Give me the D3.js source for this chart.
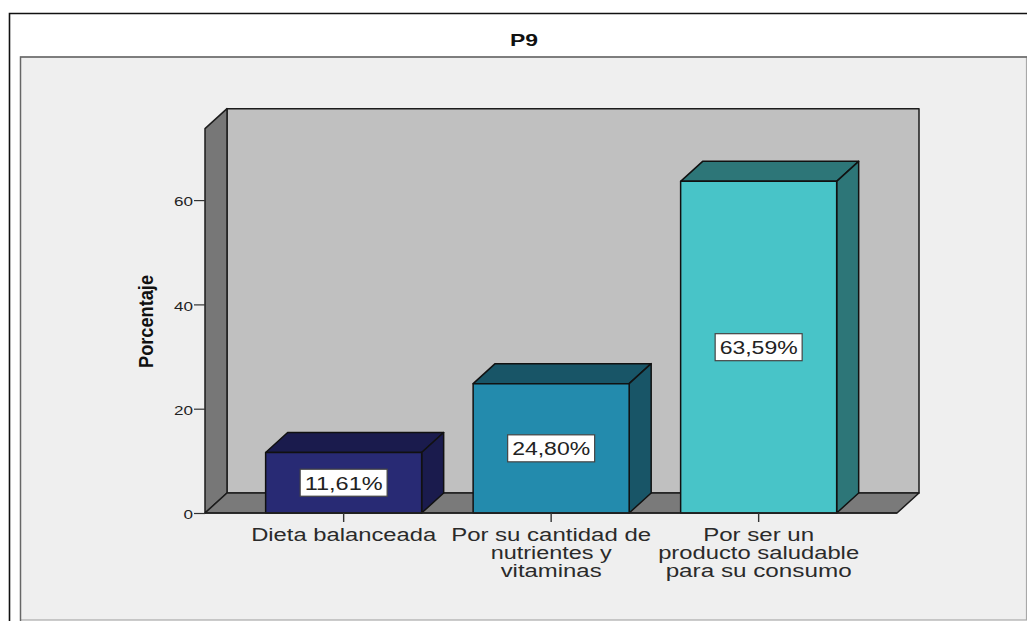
<!DOCTYPE html>
<html><head><meta charset="utf-8">
<script src="https://cdn.jsdelivr.net/npm/d3@7"></script>
<style>html,body{margin:0;padding:0;background:#fff;overflow:hidden}svg{display:block}text{font-family:"Liberation Sans",Arial,sans-serif}</style>
</head><body>
<svg id="c" width="1027" height="621"></svg>
<script>
const categories = ["Dieta balanceada","Por su cantidad de nutrientes y vitaminas","Por ser un producto saludable para su consumo"];
const categoryLines = [["Dieta balanceada"],["Por su cantidad de","nutrientes y","vitaminas"],["Por ser un","producto saludable","para su consumo"]];
const values = [11.61,24.80,63.59];
const valueLabels = ["11,61%","24,80%","63,59%"];
const frontColors = ["#282a74","#238bad","#48c4c8"];
const topColors = ["#1a1b4d","#185567","#2d7678"];
const yTicks = [0,20,40,60];
const titleText = "P9";
const yTitle = "Porcentaje";

const svg = d3.select("#c");
const y = d3.scaleLinear().domain([0,73.7]).range([513,128.65]);
const x = d3.scaleBand().domain(categories).range([239.9,862.4]).paddingInner(0.248).paddingOuter(0.124);
const dx = 22, dy = -20, xL = 205, xR = 897, y0 = y(0), yT = y.range()[1];
const line = d3.line();
const ink = "#1c1c1c";

// outer frame and panel
svg.append("path").attr("d","M9.5 621V13.5H1027").attr("fill","none").attr("stroke","#111").attr("stroke-width",1.6);
svg.append("rect").attr("x",20.5).attr("y",57).attr("width",1006).attr("height",563).attr("fill","#efefef").attr("stroke","#a8a8a8").attr("stroke-width",1.2);
svg.append("path").attr("d","M20.5 621V57H1027").attr("fill","none").attr("stroke","#666").attr("stroke-width",1.4);

svg.append("text").attr("x",524).attr("y",46).attr("text-anchor","middle").attr("font-weight","bold").attr("font-size",17).attr("fill","#111")
  .attr("textLength",28).attr("lengthAdjust","spacingAndGlyphs").text(titleText);

// 3D walls
const walls = svg.append("g").attr("stroke",ink).attr("stroke-width",1.5).attr("stroke-linejoin","round");
walls.append("path").attr("d",line([[xL+dx,yT+dy],[xR+dx,yT+dy],[xR+dx,y0+dy],[xL+dx,y0+dy]])+"Z").attr("fill","#c0c0c0");
walls.append("path").attr("d",line([[xL,yT],[xL+dx,yT+dy],[xL+dx,y0+dy],[xL,y0]])+"Z").attr("fill","#777777");
walls.append("path").attr("d",line([[xL,y0],[xL+dx,y0+dy],[xR+dx,y0+dy],[xR,y0]])+"Z").attr("fill","#7a7a7a");

// bars
const bars = svg.append("g").selectAll("g").data(categories).join("g").attr("stroke","#111").attr("stroke-width",1.5).attr("stroke-linejoin","round");
bars.append("path").attr("fill",(d,i)=>topColors[i]).attr("d",(d,i)=>{const a=x(d),b=a+x.bandwidth(),t=y(values[i]);return line([[a,t],[a+dx,t+dy],[b+dx,t+dy],[b,t]])+"Z";});
bars.append("path").attr("fill",(d,i)=>topColors[i]).attr("d",(d,i)=>{const b=x(d)+x.bandwidth(),t=y(values[i]);return line([[b,t],[b+dx,t+dy],[b+dx,y0+dy],[b,y0]])+"Z";});
bars.append("rect").attr("fill",(d,i)=>frontColors[i]).attr("x",d=>x(d)).attr("width",x.bandwidth()).attr("y",(d,i)=>y(values[i])).attr("height",(d,i)=>y0-y(values[i]));

// value labels
const lab = svg.append("g").selectAll("g").data(categories).join("g")
  .attr("transform",(d,i)=>`translate(${x(d)+x.bandwidth()/2},${(y(values[i])+y0)/2})`);
lab.append("rect").attr("x",-43.5).attr("y",-13.5).attr("width",87).attr("height",27).attr("fill","#fff").attr("stroke","#444").attr("stroke-width",1.2);
lab.append("text").attr("y",7).attr("text-anchor","middle").attr("font-size",18).attr("fill","#222")
  .attr("textLength",78).attr("lengthAdjust","spacingAndGlyphs").text((d,i)=>valueLabels[i]);

// y axis
const ya = svg.append("g").attr("transform",`translate(${xL},0)`).call(d3.axisLeft(y).tickValues(yTicks).tickSize(11).tickSizeOuter(0).tickPadding(1));
ya.select(".domain").remove();
ya.attr("font-family",null).attr("font-size",null);
ya.selectAll("line").attr("stroke","#333").attr("stroke-width",1.2);
ya.selectAll("text").attr("font-size",13).attr("fill","#222").attr("dy","0.45em")
  .attr("textLength",d=>d===0?9.5:19).attr("lengthAdjust","spacingAndGlyphs");

// x axis
const xa = svg.append("g").attr("transform",`translate(0,${y0})`).call(d3.axisBottom(x).tickSize(9).tickSizeOuter(0).tickFormat(""));
xa.select(".domain").attr("stroke","#222").attr("stroke-width",1.4).attr("d",`M${xL},0H${xR}`);
xa.selectAll("line").attr("stroke","#333").attr("stroke-width",1.4);
xa.attr("font-family",null);

const widths = [[185],[200,121,101],[111,201,186]];
const cat = svg.append("g").selectAll("text").data(categories).join("text")
  .attr("text-anchor","middle").attr("font-size",17.5).attr("fill","#2a2a2a");
cat.each(function(d,i){
  d3.select(this).selectAll("tspan").data(categoryLines[i]).join("tspan")
    .attr("x",x(d)+x.bandwidth()/2).attr("y",(l,j)=>540.5+j*18.3)
    .attr("textLength",(l,j)=>widths[i][j]).attr("lengthAdjust","spacingAndGlyphs").text(l=>l);
});

// y title
svg.append("text").attr("transform","translate(152.5,321.5) rotate(-90)").attr("text-anchor","middle")
  .attr("font-weight","bold").attr("font-size",21).attr("fill","#111")
  .attr("textLength",93).attr("lengthAdjust","spacingAndGlyphs").text(yTitle);
</script>
</body></html>
